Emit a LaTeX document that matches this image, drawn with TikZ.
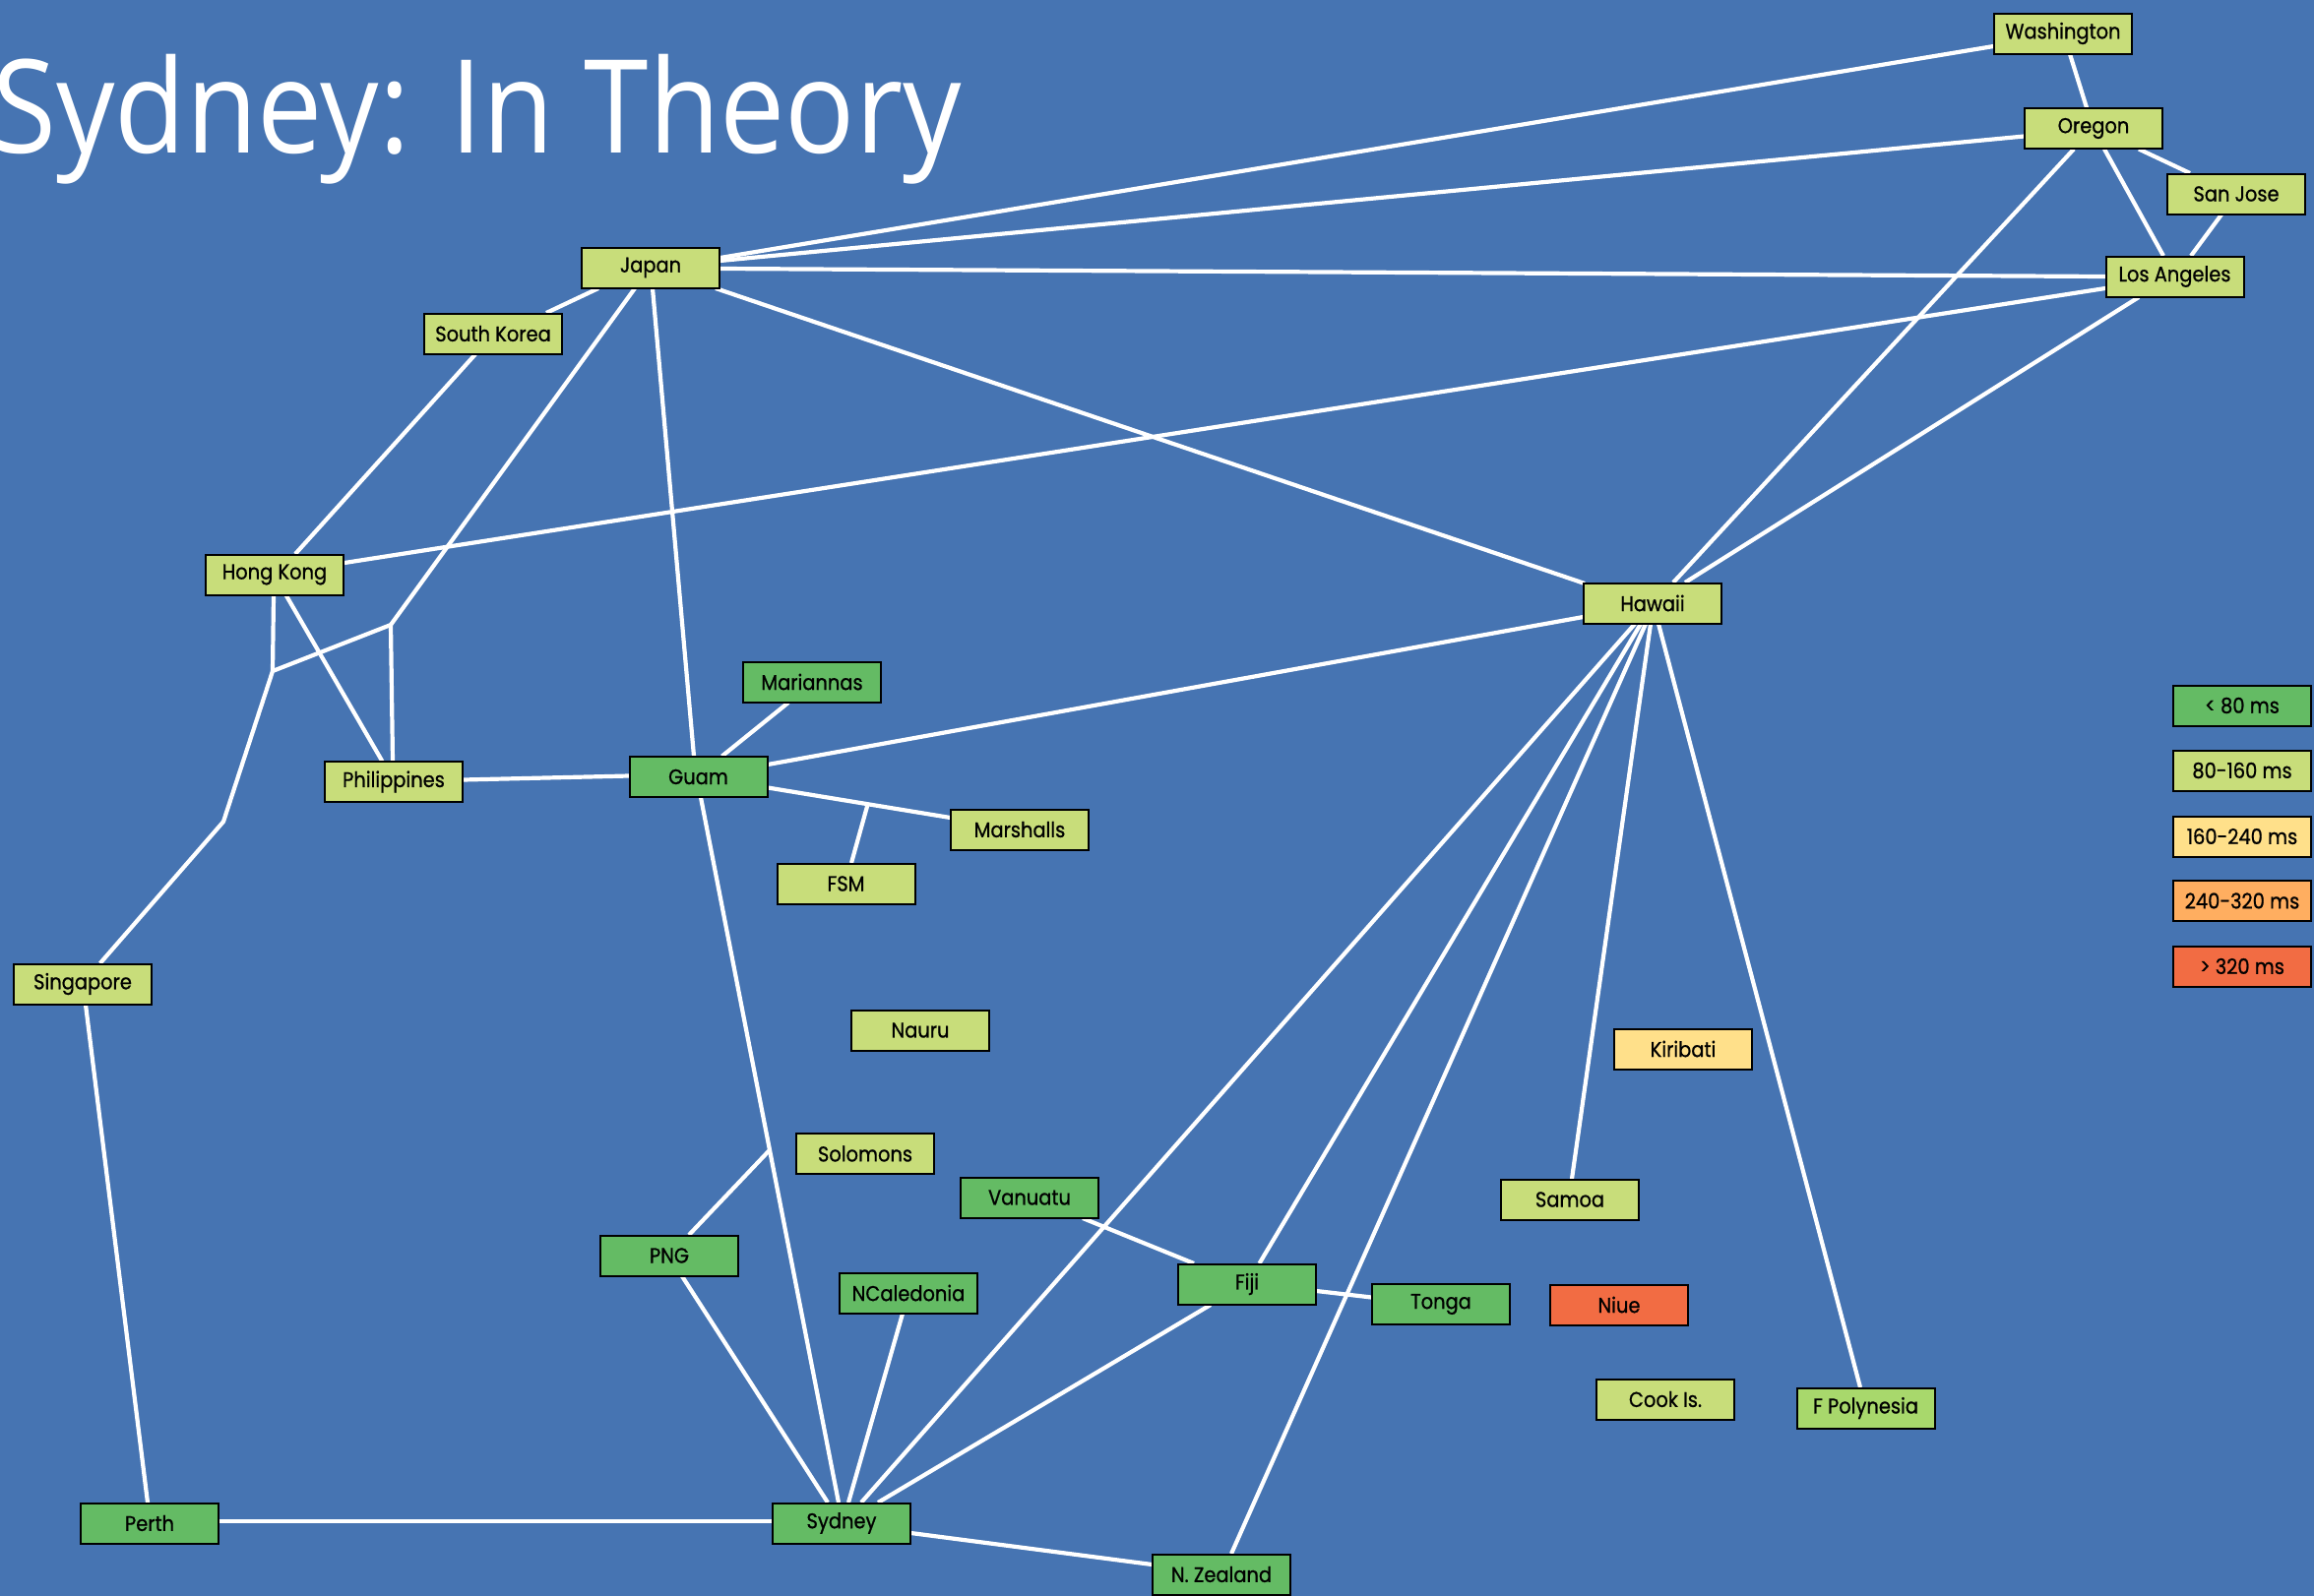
\documentclass[tikz,border=0pt]{standalone}
\usepackage{fontspec}
\newfontfamily\nodefont[FakeStretch=0.9,FakeBold=0.8]{Poppins}
\newfontfamily\titlefont[FakeStretch=0.895]{Open Sans}
\usetikzlibrary{calc}
\definecolor{bgblue}{HTML}{4674B2}
\definecolor{dkgreen}{HTML}{64BB64}
\definecolor{ltgreen}{HTML}{C8DD7A}
\definecolor{fpgreen}{HTML}{A8D86C}
\definecolor{ylw}{HTML}{FFE08A}
\definecolor{orng}{HTML}{FFAE60}
\definecolor{redd}{HTML}{F26C43}
\pgfdeclarelayer{bglayer}
\pgfdeclarelayer{linklayer}
\pgfsetlayers{bglayer,linklayer,main}
\newcommand\conn[4]{\draw[link] ([shift={#2}]#1.center) -- ([shift={#4}]#3.center);}
\begin{document}
\begin{tikzpicture}[x=0.5pt,y=-0.5pt,
  box/.style={draw=black, line width=1pt, minimum width=70pt, minimum height=20.5pt, inner sep=0pt,
    font=\nodefont\fontsize{10.8}{12}\selectfont, text=black},
  dg/.style={box, fill=dkgreen},
  lg/.style={box, fill=ltgreen},
  fp/.style={box, fill=fpgreen},
  yl/.style={box, fill=ylw},
  og/.style={box, fill=orng},
  rd/.style={box, fill=redd},
  link/.style={white, line width=2.1pt}]
\begin{pgfonlayer}{bglayer}
\fill[bgblue] (0,0) rectangle (2351,1622);
\end{pgfonlayer}
\useasboundingbox (0,0) rectangle (2351,1622);

\node[anchor=base west, text=white, inner sep=0pt, font=\titlefont\fontsize{66}{70}\selectfont] (title) at (-8,155) {Sydney: In Theory};

\node[lg] (W) at (2096,34) {Washington};
\node[lg] (O) at (2127,130.5) {Oregon};
\node[lg] (SJ) at (2272,197) {San Jose};
\node[lg] (LA) at (2209.5,281) {Los Angeles};
\node[lg] (JP) at (661,272) {Japan};
\node[lg] (SK) at (501,339) {South Korea};
\node[lg] (HK) at (279,584) {Hong Kong};
\node[lg] (PH) at (400,794.5) {Philippines};
\node[dg] (GU) at (709.5,789.5) {Guam};
\node[dg] (MA) at (825,693) {Mariannas};
\node[lg] (MS) at (1036,843) {Marshalls};
\node[lg] (FSM) at (859.5,898) {FSM};
\node[lg] (NA) at (935,1047) {Nauru};
\node[lg] (SO) at (879,1172.5) {Solomons};
\node[dg] (VA) at (1046,1217) {Vanuatu};
\node[dg] (PNG) at (680,1276) {PNG};
\node[dg] (NC) at (923,1314) {NCaledonia};
\node[dg] (FJ) at (1267,1305) {Fiji};
\node[dg] (TO) at (1464,1325.5) {Tonga};
\node[rd] (NI) at (1645,1326) {Niue};
\node[lg] (CK) at (1692,1422) {Cook Is.};
\node[fp] (FP) at (1895.5,1431) {F Polynesia};
\node[lg] (SA) at (1595,1219) {Samoa};
\node[yl] (KI) at (1710,1066) {Kiribati};
\node[lg] (HI) at (1679,613) {Hawaii};
\node[lg] (SG) at (84,1000) {Singapore};
\node[dg] (PE) at (152,1548) {Perth};
\node[dg] (SY) at (855,1548) {Sydney};
\node[dg] (NZ) at (1241,1600) {N. Zealand};

\node[dg] (L1) at (2278,717) {< 80 ms};
\node[lg] (L2) at (2278,783) {80-160 ms};
\node[yl] (L3) at (2278,850) {160-240 ms};
\node[og] (L4) at (2278,915.5) {240-320 ms};
\node[rd] (L5) at (2278,982) {> 320 ms};

\coordinate (J1) at (397,635);
\coordinate (J2) at (277,682);
\coordinate (J3) at (227,835);

\begin{pgfonlayer}{linklayer}
\conn{W}{(7,21)}{O}{(-7,-21)}
\conn{O}{(46,21)}{SJ}{(-47,-21)}
\conn{O}{(11,21)}{LA}{(-11.5,-21)}
\conn{SJ}{(-15,21)}{LA}{(16.5,-21)}
\conn{O}{(-20,21)}{HI}{(21,-21)}
\conn{LA}{(-36.5,21)}{HI}{(33,-21)}
\conn{W}{(-70.5,13)}{JP}{(70.5,-10)}
\conn{O}{(-70.5,8)}{JP}{(70.5,-7)}
\conn{LA}{(-70.5,0)}{JP}{(70.5,1)}
\conn{LA}{(-70.5,12)}{HK}{(71,-12)}
\conn{JP}{(66,21)}{HI}{(-69,-20)}
\conn{GU}{(70.5,-12.5)}{HI}{(-70.5,14)}
\draw[link] ([shift={(70.5,11)}]GU.center) -- coordinate[pos=0.548] (JF) ([shift={(-70.5,-12)}]MS.center);
\draw[link] (JF) -- ([shift={(5.5,-21)}]FSM.center);
\conn{GU}{(24,-21)}{MA}{(-24,21)}
\conn{JP}{(2,21)}{GU}{(-4.5,-21)}
\draw[link] ([shift={(2.5,21)}]GU.center) -- coordinate[pos=0.5] (J4) ([shift={(-3,-21)}]SY.center);
\draw[link] ([shift={(20,-21)}]PNG.center) -- (J4);
\conn{PNG}{(13,21)}{SY}{(-14,-21)}
\conn{NC}{(-6,21)}{SY}{(7,-21)}
\conn{HI}{(-18,21)}{SY}{(20,-21)}
\conn{FJ}{(-37,21)}{SY}{(37,-21)}
\conn{HI}{(-12,21)}{FJ}{(12.5,-21)}
\conn{HI}{(-7,21)}{NZ}{(10,-21)}
\conn{HI}{(-2,21)}{SA}{(2,-21)}
\conn{HI}{(6,21)}{FP}{(-5.5,-21)}
\conn{VA}{(54,21)}{FJ}{(-54,-21)}
\conn{FJ}{(70.5,7)}{TO}{(-70.5,-7)}
\conn{SY}{(70.5,10)}{NZ}{(-70.5,-10)}
\conn{PE}{(70.5,-2)}{SY}{(-70.5,-2)}
\conn{SG}{(3,21)}{PE}{(-2,-21)}
\draw[link] ([shift={(17.7,-21)}]SG.center) -- (J3) -- (J2) -- (J1) -- ([shift={(-16,21)}]JP.center);
\draw[link] (J2) -- ([shift={(-1,21)}]HK.center);
\draw[link] (J1) -- ([shift={(-1,-21)}]PH.center);
\conn{HK}{(11.7,21)}{PH}{(-11.7,-21)}
\conn{HK}{(21,-21)}{SK}{(-18,21)}
\conn{SK}{(54,-21)}{JP}{(-53,21)}
\conn{PH}{(70.5,-2)}{GU}{(-70.5,-1)}
\end{pgfonlayer}
\end{tikzpicture}
\end{document}
